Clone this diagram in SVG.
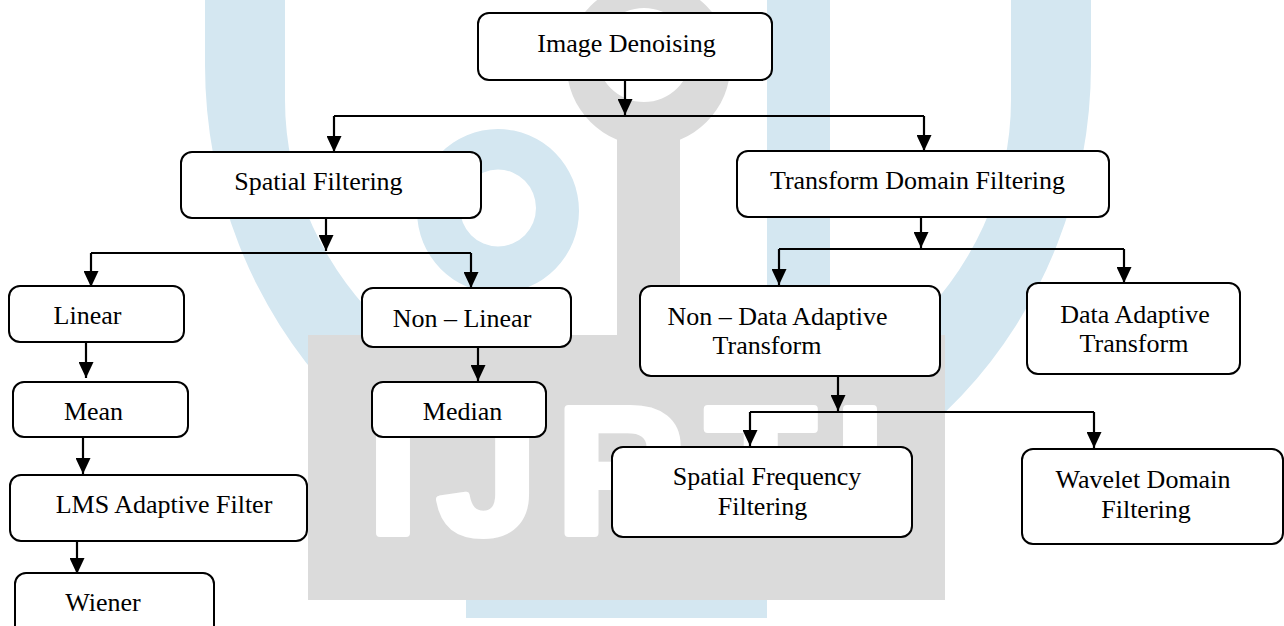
<svg xmlns="http://www.w3.org/2000/svg" width="1284" height="626" viewBox="0 0 1284 626">
<style>
  .box { fill: #ffffff; stroke: #000000; stroke-width: 2; }
  .lbl { font-family: "Liberation Serif", "Times New Roman", serif; font-size: 26px; fill: #000000; text-anchor: middle; }
  .wire { fill: none; stroke: #000000; stroke-width: 2.2; }
  .arr { fill: none; stroke: #000000; stroke-width: 2.2; marker-end: url(#ah); }
  .wmBlue { fill: #d4e7f1; }
  .wmGray { fill: #dbdbdb; }
</style>
<defs>
  <marker id="ah" viewBox="0 0 16 15" refX="16" refY="7.5" markerWidth="16" markerHeight="15" markerUnits="userSpaceOnUse" orient="auto">
    <path d="M0,0 L16,7.5 L0,15 z" fill="#000000"/>
  </marker>
</defs>
<rect x="0" y="0" width="1284" height="626" fill="#ffffff"/>

<g id="watermark">
  <path class="wmBlue" fill-rule="evenodd" d="M205,-10 V65 A443,468 0 0 0 1091,65 V-10 Z M285,-10 V100 A363,330 0 0 0 1011,100 V-10 Z"/>
  <rect class="wmBlue" x="767" y="0" width="63" height="340"/>
  <path class="wmBlue" fill-rule="evenodd" d="M417,211 A81,82 0 1 0 579,211 A81,82 0 1 0 417,211 Z M460,208 A38,38.5 0 1 0 536,208 A38,38.5 0 1 0 460,208 Z"/>
  <rect class="wmBlue" x="466" y="590" width="301" height="28"/>
  <path class="wmGray" fill-rule="evenodd" d="M566.5,64 A82,82 0 1 0 730.5,64 A82,82 0 1 0 566.5,64 Z M597,55 A47,47 0 1 0 691,55 A47,47 0 1 0 597,55 Z"/>
  <rect class="wmGray" x="617" y="128" width="63" height="212"/>
  <rect class="wmGray" x="308" y="335" width="637" height="265"/>
  <text x="368" y="533" textLength="517" lengthAdjust="spacing" font-family="Liberation Sans, Arial, sans-serif" font-weight="bold" font-size="180" fill="#ffffff" stroke="#ffffff" stroke-width="8" stroke-linejoin="round">IJRTI</text>
</g>

<g id="connectors">
  <path class="arr" d="M625,80 V115"/>
  <path class="wire" d="M334,116 H924"/>
  <path class="arr" d="M334,116 V152"/>
  <path class="arr" d="M924,116 V151"/>
  <path class="arr" d="M326,218 V251"/>
  <path class="wire" d="M91,253 H471"/>
  <path class="arr" d="M91,253 V287"/>
  <path class="arr" d="M471,253 V288"/>
  <path class="arr" d="M921,217 V248"/>
  <path class="wire" d="M779,249 H1124"/>
  <path class="arr" d="M779,249 V285"/>
  <path class="arr" d="M1124,249 V283"/>
  <path class="arr" d="M86,342 V378"/>
  <path class="arr" d="M83,437 V474"/>
  <path class="arr" d="M77,541 V574"/>
  <path class="arr" d="M478,347 V381"/>
  <path class="arr" d="M838,376 V411"/>
  <path class="wire" d="M750,412 H1094"/>
  <path class="arr" d="M750,412 V446"/>
  <path class="arr" d="M1094,412 V448"/>
</g>

<g id="n-image-denoising">
  <rect class="box" x="478" y="13" width="294" height="67" rx="11"/>
  <text class="lbl" x="626.5" y="52">Image Denoising</text>
</g>
<g id="n-spatial-filtering">
  <rect class="box" x="181" y="152" width="300" height="66" rx="11"/>
  <text class="lbl" x="318.5" y="190">Spatial Filtering</text>
</g>
<g id="n-transform-domain">
  <rect class="box" x="737" y="151" width="372" height="66" rx="11"/>
  <text class="lbl" x="917.5" y="189">Transform Domain Filtering</text>
</g>
<g id="n-linear">
  <rect class="box" x="9" y="286" width="175" height="56" rx="11"/>
  <text class="lbl" x="87.5" y="324">Linear</text>
</g>
<g id="n-non-linear">
  <rect class="box" x="362" y="288" width="209" height="59" rx="11"/>
  <text class="lbl" x="462" y="327">Non – Linear</text>
</g>
<g id="n-mean">
  <rect class="box" x="13" y="382" width="175" height="55" rx="11"/>
  <text class="lbl" x="93.5" y="420">Mean</text>
</g>
<g id="n-median">
  <rect class="box" x="372" y="382" width="174" height="55" rx="11"/>
  <text class="lbl" x="462.5" y="420">Median</text>
</g>
<g id="n-lms">
  <rect class="box" x="10" y="475" width="297" height="66" rx="11"/>
  <text class="lbl" x="164" y="513">LMS Adaptive Filter</text>
</g>
<g id="n-wiener">
  <rect class="box" x="15" y="573" width="199" height="67" rx="11"/>
  <text class="lbl" x="103" y="611">Wiener</text>
</g>
<g id="n-non-data-adaptive">
  <rect class="box" x="640" y="286" width="300" height="90" rx="11"/>
  <text class="lbl" x="777.5" y="325">Non – Data Adaptive</text>
  <text class="lbl" x="767" y="354">Transform</text>
</g>
<g id="n-data-adaptive">
  <rect class="box" x="1027" y="283" width="213" height="91" rx="11"/>
  <text class="lbl" x="1135" y="323">Data Adaptive</text>
  <text class="lbl" x="1134" y="352">Transform</text>
</g>
<g id="n-spatial-frequency">
  <rect class="box" x="612" y="447" width="300" height="90" rx="11"/>
  <text class="lbl" x="767" y="485">Spatial Frequency</text>
  <text class="lbl" x="762.5" y="515">Filtering</text>
</g>
<g id="n-wavelet">
  <rect class="box" x="1022" y="449" width="261" height="95" rx="11"/>
  <text class="lbl" x="1143" y="488">Wavelet Domain</text>
  <text class="lbl" x="1146" y="518">Filtering</text>
</g>
</svg>
